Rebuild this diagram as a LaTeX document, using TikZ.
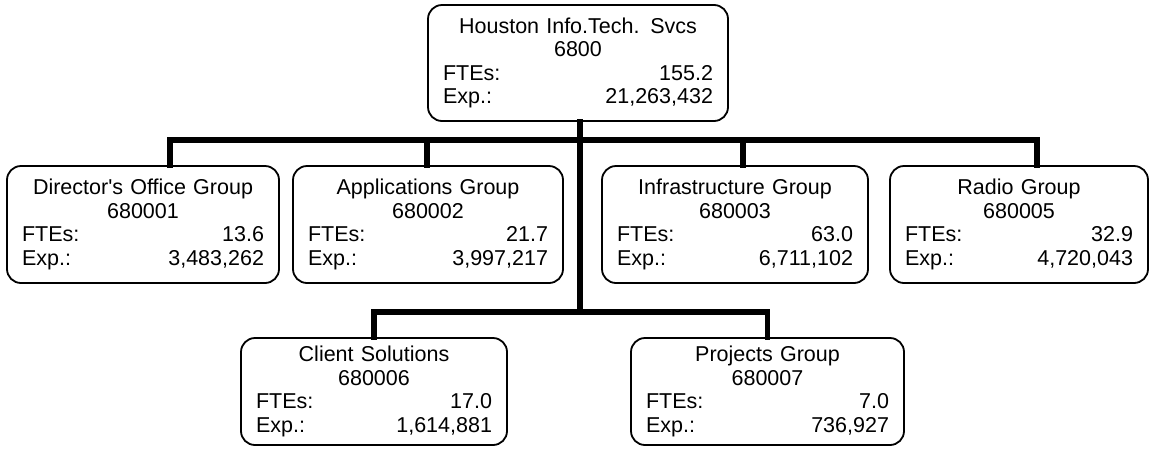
\documentclass[tikz,border=0pt]{standalone}
\usepackage{fontspec}
\setmainfont{Liberation Sans}
\begin{document}
\begin{tikzpicture}[x=1pt,y=-1pt,
  orgbox/.style={draw=black, line width=1.8pt, rounded corners=14pt, fill=white,
    inner xsep=15pt, inner ysep=0pt, align=center, text width=#1,
    font=\fontsize{21.5}{23.5}\selectfont},
  lvone/.style={minimum height=117pt},
  lvtwo/.style={minimum height=107pt},
  link/.style={line width=5.5pt, line cap=rect, line join=miter}]
\useasboundingbox (0,0) rectangle (1151,448);
% level 0
\node[orgbox=270pt, minimum height=116pt] (top) at (578,63)
  {Houston Info.Tech. Svcs\\6800\\FTEs:\hfill 155.2\\Exp.:\hfill 21,263,432};
% level 1
\node[orgbox=242pt, lvone] (dir) at (143,224.5)
  {Director\textquotesingle s Office Group\\680001\\FTEs:\hfill 13.6\\Exp.:\hfill 3,483,262};
\node[orgbox=240pt, lvone] (app) at (428,224.5)
  {Applications Group\\680002\\FTEs:\hfill 21.7\\Exp.:\hfill 3,997,217};
\node[orgbox=236pt, lvone] (inf) at (735,224.5)
  {Infrastructure Group\\680003\\FTEs:\hfill 63.0\\Exp.:\hfill 6,711,102};
\node[orgbox=228pt, lvone] (rad) at (1019,224.5)
  {Radio Group\\680005\\FTEs:\hfill 32.9\\Exp.:\hfill 4,720,043};
% level 2
\node[orgbox=236pt, lvtwo] (cli) at (374,391.5)
  {Client Solutions\\680006\\FTEs:\hfill 17.0\\Exp.:\hfill 1,614,881};
\node[orgbox=243pt, lvtwo] (pro) at (767.5,391.5)
  {Projects Group\\680007\\FTEs:\hfill 7.0\\Exp.:\hfill 736,927};
% connector points
\coordinate (b1) at (170,140);
\coordinate (b2) at (427,140);
\coordinate (b3) at (743,140);
\coordinate (b4) at (1037,140);
\coordinate (tr) at (580,140);
\coordinate (c1) at (374,312);
\coordinate (c2) at (767.5,312);
% connectors
\draw[link] (b1) -- (b4);
\draw[link] (top.south -| tr) -- (tr |- c1);
\draw[link] (b1) -- (b1 |- dir.north);
\draw[link] (b2) -- (b2 |- app.north);
\draw[link] (b3) -- (b3 |- inf.north);
\draw[link] (b4) -- (b4 |- rad.north);
\draw[link] (c1 |- cli.north) -- (c1) -- (c2) -- (c2 |- pro.north);
\end{tikzpicture}
\end{document}
